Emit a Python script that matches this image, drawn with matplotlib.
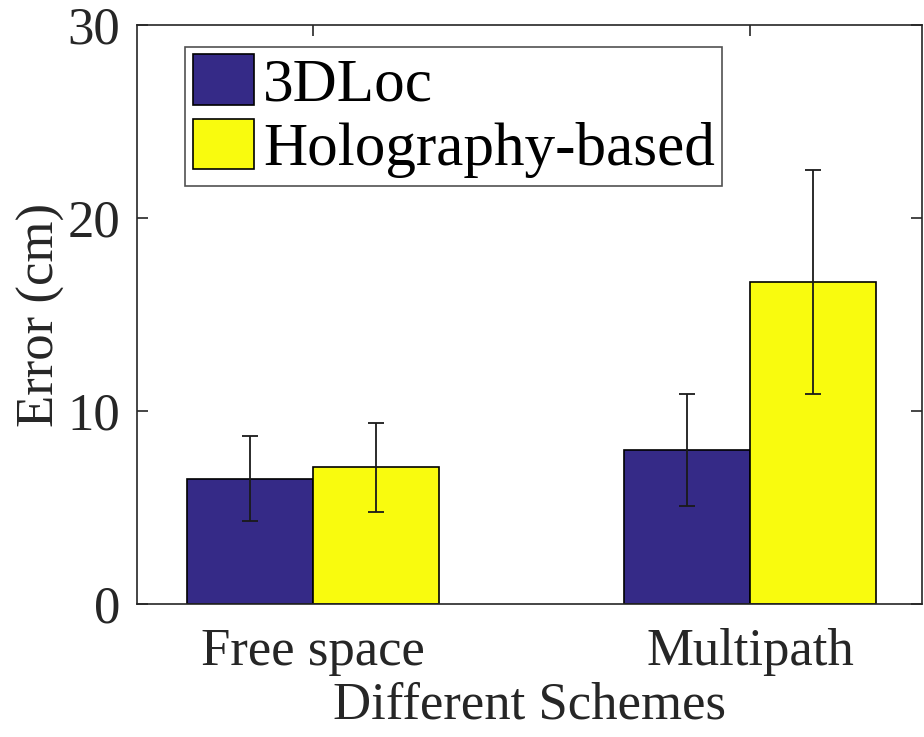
import matplotlib
matplotlib.use("Agg")
import matplotlib.pyplot as plt
import numpy as np

plt.rcParams['font.family'] = ['Liberation Serif', 'DejaVu Serif']

# data
schemes = ['Free space', 'Multipath']
series = ['3DLoc', 'Holography-based']
mean_3dloc = [6.5, 8.0]
err_3dloc = [2.2, 2.9]
mean_holo = [7.1, 16.7]
err_holo = [2.3, 5.8]
colors = ['#352A87', '#F9FB0E']

fig = plt.figure(figsize=(9.24, 7.37), dpi=100)
ax = fig.add_axes([0.148, 0.180, 0.850, 0.786])

x = np.arange(1, len(schemes) + 1)
w = 0.288
ax.bar(x - w / 2, mean_3dloc, w, color=colors[0], edgecolor='black', linewidth=1.2,
       label=series[0], zorder=2)
ax.bar(x + w / 2, mean_holo, w, color=colors[1], edgecolor='black', linewidth=1.2,
       label=series[1], zorder=2)
ax.errorbar(x - w / 2, mean_3dloc, yerr=err_3dloc, fmt='none', ecolor='#1a1a1a',
            elinewidth=1.3, capsize=6, capthick=1.3, zorder=3)
ax.errorbar(x + w / 2, mean_holo, yerr=err_holo, fmt='none', ecolor='#1a1a1a',
            elinewidth=1.3, capsize=6, capthick=1.3, zorder=3)

ax.set_xlim(0.597, 2.394)
ax.set_ylim(0, 30)
ax.set_yticks([0, 10, 20, 30])
ax.set_xticks(x)
ax.set_xticklabels(schemes)
ax.tick_params(direction='in', length=8, width=1.2, labelsize=38, colors='#262626',
               top=True, right=True)
ax.tick_params(axis='x', pad=17)
ax.tick_params(axis='y', pad=12)
for s in ax.spines.values():
    s.set_color('#262626')
    s.set_linewidth(1.2)
ax.set_xlabel('Different Schemes', fontsize=38, color='#262626', labelpad=4)
ax.set_ylabel('Error (cm)', fontsize=38, color='#262626', labelpad=2)

leg = ax.legend(loc='upper left', bbox_to_anchor=(0.062, 0.962), fontsize=44,
                frameon=True, fancybox=False, edgecolor='#262626',
                handlelength=1.0, handleheight=0.9, handletextpad=0.15,
                labelspacing=0.08, borderpad=0.12, borderaxespad=0)
leg.get_frame().set_linewidth(1.2)

fig.savefig('out.png', dpi=100)
